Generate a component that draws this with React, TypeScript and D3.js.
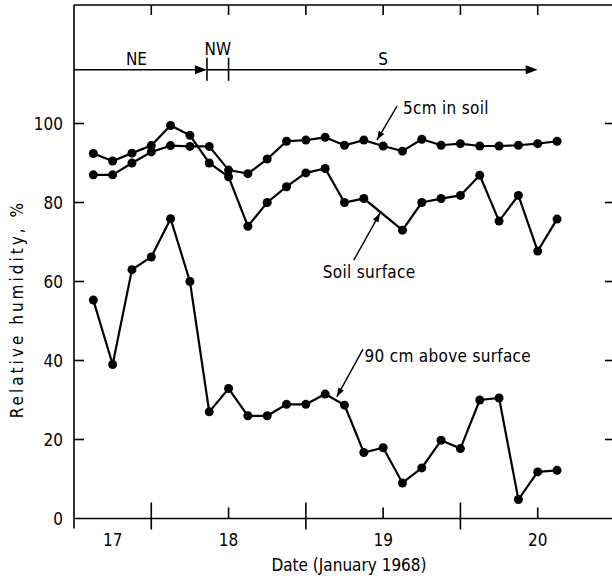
import React from "react";
import * as d3 from "d3";

// observation times (day of January 1968, 3-hourly)
const times = [
  17.625, 17.75, 17.875, 18.0, 18.125, 18.25, 18.375, 18.5, 18.625, 18.75, 18.875, 19.0, 19.125,
  19.25, 19.375, 19.5, 19.625, 19.75, 19.875, 20.0, 20.125, 20.25, 20.375, 20.5, 20.625,
];
const soil5cm = [
  87, 87, 90, 92.8, 94.4, 94.2, 94.2, 88.2, 87.3, 91, 95.5, 95.8, 96.5, 94.5, 95.8, 94.3, 93, 96,
  94.5, 94.9, 94.3, 94.3, 94.5, 94.9, 95.5,
];
const soilSurface = [
  92.4, 90.5, 92.5, 94.4, 99.5, 97, 90, 86.5, 74, 80, 84, 87.5, 88.6, 80, 81, null, 73, 80, 81,
  81.8, 86.9, 75.3, 81.8, 67.7, 75.8,
];
const air90cm = [
  55.3, 39, 63, 66.2, 75.9, 60, 27, 32.9, 26, 26, 28.9, 28.9, 31.5, 28.7, 16.7, 17.9, 9, 12.8,
  19.8, 17.7, 30, 30.5, 4.8, 11.8, 12.2,
];

const yTicks = [0, 20, 40, 60, 80, 100];
const dayBoundaries = [18, 19, 20];
const middays = [18.5, 19.5, 20.5];
const topTicks = [18, 18.5, 19, 19.5, 20, 20.5];
const dayLabels = ["17", "18", "19", "20"];
const dayLabelPos = [17.75, 18.5, 19.5, 20.5];

// wind direction periods
const windDirs = ["NE", "NW", "S"];
const windStart = [17.5, 18.36, 18.5];
const windEnd = [18.36, 18.5, 20.5];
const windLevel = 113.6;

// series labels: text start, arrow tail, arrow tip (day, %)
const labelNames = ["5cm in soil", "Soil surface", "90 cm above surface"];
const labelAt = [
  [19.628, 102.4],
  [19.11, 60.9],
  [19.38, 39.6],
];
const arrowFrom = [
  [19.59, 104.4],
  [19.31, 65.4],
  [19.37, 42.9],
];
const arrowTo = [
  [19.46, 95.8],
  [19.48, 77.3],
  [19.2, 30.8],
];

const FONT = "'DejaVu Sans Condensed', 'DejaVu Sans', sans-serif";

function head(x1: number, y1: number, x2: number, y2: number, len: number, w: number) {
  const dx = x2 - x1;
  const dy = y2 - y1;
  const d = Math.sqrt(dx * dx + dy * dy);
  const ux = dx / d;
  const uy = dy / d;
  const bx = x2 - ux * len;
  const by = y2 - uy * len;
  return `M${x2},${y2}L${bx - uy * w},${by + ux * w}L${bx + uy * w},${by - ux * w}Z`;
}

export default function App() {
  const width = 612;
  const height = 578;
  const x = d3.scaleLinear().domain([17.5, 21]).range([74, 615]);
  const y = d3.scaleLinear().domain([0, 130]).range([518.5, 5]);
  const axisY = y(0);

  const line = d3
    .line<[number, number]>()
    .x((d) => x(d[0]))
    .y((d) => y(d[1]));

  const series = [soil5cm, soilSurface, air90cm].map((vals) =>
    times
      .map((t, i) => [t, vals[i]] as [number, number | null])
      .filter((d) => d[1] !== null) as [number, number][]
  );

  return (
    <svg
      width={width}
      height={height}
      style={{ position: "absolute", left: 0, top: 0, background: "#fff" }}
      fontFamily={FONT}
    >
      {/* frame */}
      <g stroke="#000" strokeWidth={1.6} fill="none">
        <line x1={x(17.5)} x2={x(17.5)} y1={y(130)} y2={axisY + 10} />
        <line x1={x(17.5)} x2={width} y1={y(130)} y2={y(130)} />
        <line x1={x(17.5)} x2={width} y1={axisY} y2={axisY} />
        {yTicks.slice(1).map((v) => (
          <g key={v}>
            <line x1={x(17.5)} x2={x(17.5) + 10} y1={y(v)} y2={y(v)} />
            <line x1={x(21) - 10} x2={x(21)} y1={y(v)} y2={y(v)} />
          </g>
        ))}
        {dayBoundaries.map((d) => (
          <line key={d} x1={x(d)} x2={x(d)} y1={axisY - 16} y2={axisY + 11} />
        ))}
        {middays.map((d) => (
          <line key={d} x1={x(d)} x2={x(d)} y1={axisY - 11} y2={axisY} />
        ))}
        {topTicks.map((d) => (
          <line key={d} x1={x(d)} x2={x(d)} y1={y(130)} y2={y(130) + 10} />
        ))}
      </g>

      {/* tick labels */}
      <g fontSize={17} fill="#000">
        {yTicks.map((v) => (
          <text key={v} x={x(17.5) - 11} y={y(v) + 6} textAnchor="end">
            {v}
          </text>
        ))}
        {dayLabels.map((l, i) => (
          <text key={l} x={x(dayLabelPos[i])} y={axisY + 27} textAnchor="middle">
            {l}
          </text>
        ))}
        <text x={349} y={571} textAnchor="middle">
          Date (January 1968)
        </text>
        <text
          transform={`translate(23,${y(53)}) rotate(-90)`}
          textAnchor="middle"
          letterSpacing={3}
        >
          Relative humidity, %
        </text>
      </g>

      {/* wind directions */}
      <g>
        {windDirs.map((dir, i) => {
          const x1 = x(windStart[i]);
          const x2 = x(windEnd[i]);
          const yy = y(windLevel);
          const arrow = dir !== "NW";
          return (
            <g key={dir}>
              <line x1={x1} x2={arrow ? x2 - 6 : x2} y1={yy} y2={yy} stroke="#000" strokeWidth={1.6} />
              {arrow && <path d={head(x1, yy, x2, yy, 12, 4.5)} fill="#000" />}
              <text
                x={(x1 + x2) / 2 - (dir === "NE" ? 4 : 0)}
                y={dir === "NW" ? yy - 15 : yy - 5}
                textAnchor="middle"
                fontSize={17}
              >
                {dir}
              </text>
            </g>
          );
        })}
        {[windStart[1], windEnd[1]].map((d) => (
          <line
            key={d}
            x1={x(d)}
            x2={x(d)}
            y1={y(windLevel) - 12}
            y2={y(windLevel) + 11}
            stroke="#000"
            strokeWidth={1.6}
          />
        ))}
      </g>

      {/* series */}
      {series.map((pts, si) => (
        <g key={si}>
          <path d={line(pts) || ""} fill="none" stroke="#000" strokeWidth={2.2} />
          {pts.map((p, i) => (
            <circle key={i} cx={x(p[0])} cy={y(p[1])} r={4.5} fill="#000" />
          ))}
        </g>
      ))}

      {/* series labels */}
      {labelNames.map((name, i) => {
        const x1 = x(arrowFrom[i][0]);
        const y1 = y(arrowFrom[i][1]);
        const x2 = x(arrowTo[i][0]);
        const y2 = y(arrowTo[i][1]);
        return (
          <g key={name}>
            <text x={x(labelAt[i][0])} y={y(labelAt[i][1])} fontSize={17} letterSpacing={0.3}>
              {name}
            </text>
            <line x1={x1} y1={y1} x2={x2} y2={y2} stroke="#000" strokeWidth={1.4} />
            <path d={head(x1, y1, x2, y2, 9, 3.2)} fill="#000" />
          </g>
        );
      })}
    </svg>
  );
}
